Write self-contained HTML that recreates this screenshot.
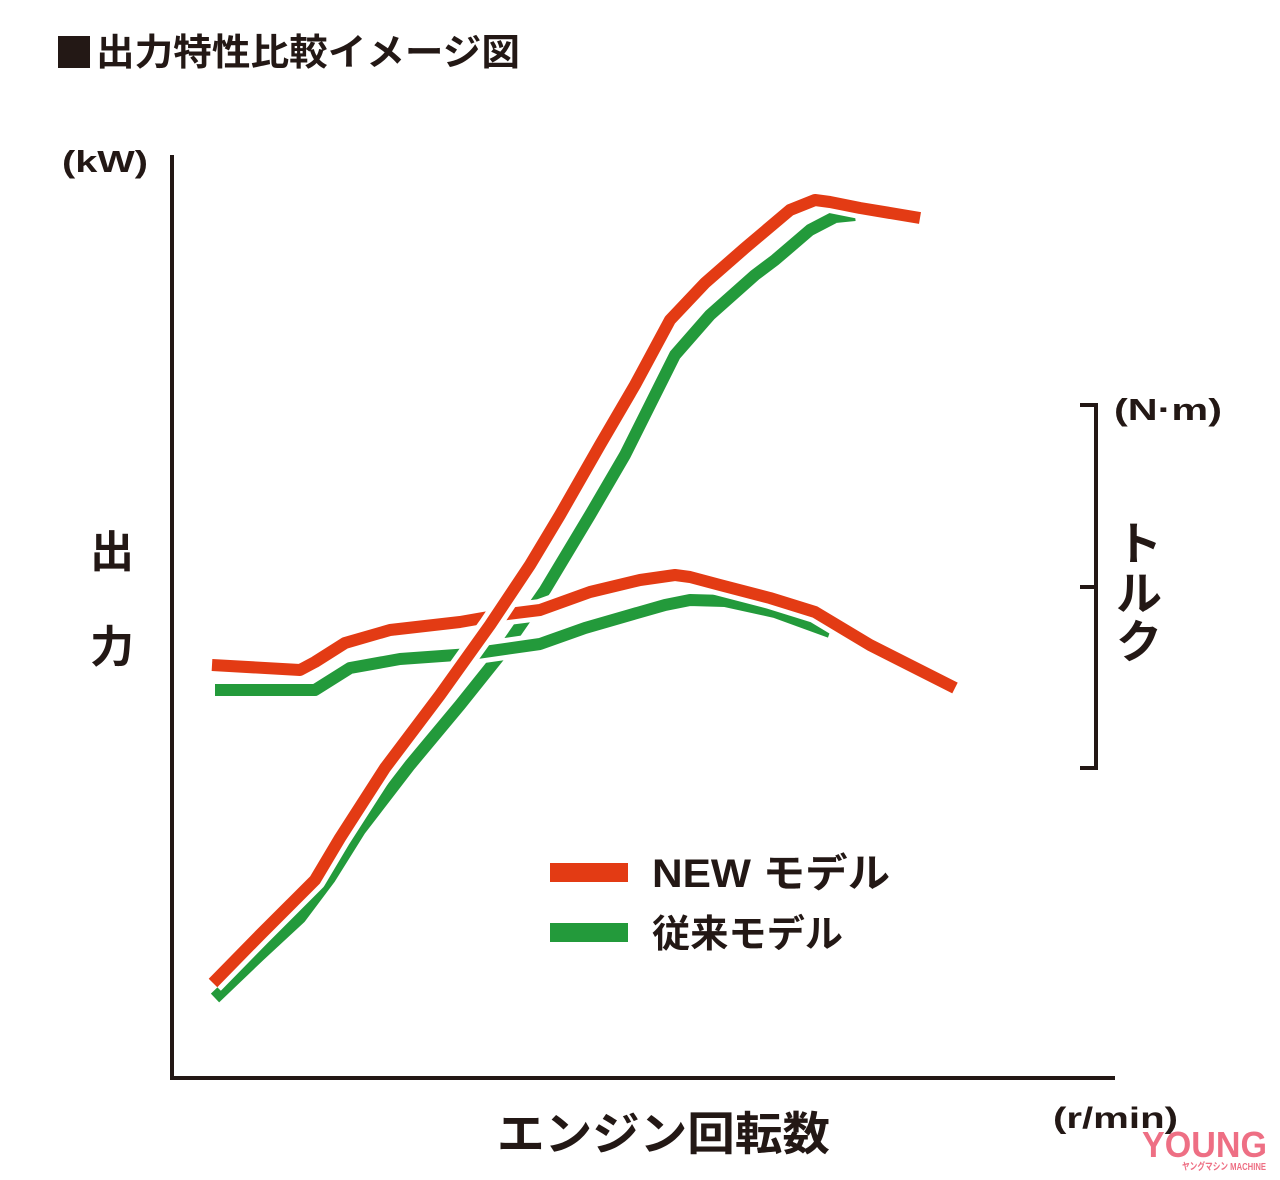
<!DOCTYPE html>
<html><head><meta charset="utf-8"><style>
body{margin:0;background:#fff;}
svg text{font-family:"Liberation Sans","Noto Sans CJK JP",sans-serif;font-weight:bold;fill:#231815;}
</style></head><body>
<svg width="1280" height="1175" viewBox="0 0 1280 1175" xmlns="http://www.w3.org/2000/svg">
<rect width="1280" height="1175" fill="#fff"/>
<rect x="58" y="36" width="32" height="32" fill="#231815"/>
<text x="96" y="65" font-size="37" textLength="424" lengthAdjust="spacingAndGlyphs">出力特性比較イメージ図</text>
<text x="62" y="172" font-size="31" textLength="86" lengthAdjust="spacingAndGlyphs">(kW)</text>
<text x="90" y="567" font-size="44">出</text>
<text x="90" y="662" font-size="44">力</text>
<text x="1114" y="420" font-size="31" textLength="108" lengthAdjust="spacingAndGlyphs">(N·m)</text>
<text x="1116" y="560" font-size="46">ト</text>
<text x="1116" y="610" font-size="46">ル</text>
<text x="1116" y="658" font-size="46">ク</text>
<g stroke="#231815" stroke-width="4" fill="none">
<path d="M172 155V1078H1115"/>
<path d="M1080 405H1096V768H1080M1080 587H1096"/>
</g>
<g fill="none" stroke-linejoin="round" stroke-linecap="butt">
<polyline points="215,998 260,955 300,918 330,878 360,830 410,765 460,705 500,655 545,590 590,515 625,455 650,405 675,355 710,315 755,275 775,260 810,230 835,217 855,215" stroke="#fff" stroke-width="22"/>
<polyline points="215,998 260,955 300,918 330,878 360,830 410,765 460,705 500,655 545,590 590,515 625,455 650,405 675,355 710,315 755,275 775,260 810,230 835,217 855,215" stroke="#239a3b" stroke-width="12"/>
<polyline points="215,690 315,690 350,668 400,659 470,654 540,644 585,628 630,615 665,605 690,600 725,601 775,612 830,632" stroke="#fff" stroke-width="22"/>
<polyline points="215,690 315,690 350,668 400,659 470,654 540,644 585,628 630,615 665,605 690,600 725,601 775,612 830,632" stroke="#239a3b" stroke-width="12"/>
<polyline points="212,665 300,670 315,662 345,643 390,630 460,622 500,615 540,610 590,592 640,580 675,575 690,577 720,585 770,598 815,612 870,645 955,688" stroke="#fff" stroke-width="22"/>
<polyline points="212,665 300,670 315,662 345,643 390,630 460,622 500,615 540,610 590,592 640,580 675,575 690,577 720,585 770,598 815,612 870,645 955,688" stroke="#e33b14" stroke-width="12"/>
<polyline points="213,983 260,935 315,880 340,838 385,768 440,695 490,625 530,565 560,515 600,445 635,385 670,320 705,283 745,248 790,210 815,200 830,202 860,208 920,218" stroke="#fff" stroke-width="22"/>
<polyline points="213,983 260,935 315,880 340,838 385,768 440,695 490,625 530,565 560,515 600,445 635,385 670,320 705,283 745,248 790,210 815,200 830,202 860,208 920,218" stroke="#e33b14" stroke-width="12"/>
</g>
<rect x="550" y="863" width="78" height="19" fill="#e33b14"/>
<rect x="550" y="923" width="78" height="19" fill="#239a3b"/>
<text x="652" y="887" font-size="40" textLength="238" lengthAdjust="spacingAndGlyphs">NEW モデル</text>
<text x="652" y="947" font-size="38" textLength="191" lengthAdjust="spacingAndGlyphs">従来モデル</text>
<text x="497" y="1150" font-size="46" textLength="333" lengthAdjust="spacingAndGlyphs">エンジン回転数</text>
<text x="1053" y="1128" font-size="30" textLength="125" lengthAdjust="spacingAndGlyphs">(r/min)</text>
<text x="1142" y="1157" font-size="36" style="fill:#ee6f84" textLength="125" lengthAdjust="spacingAndGlyphs">YOUNG</text>
<text x="1182" y="1170" font-size="10" style="fill:#ee6f84" textLength="84" lengthAdjust="spacingAndGlyphs">ヤングマシン MACHINE</text>
</svg>
</body></html>
